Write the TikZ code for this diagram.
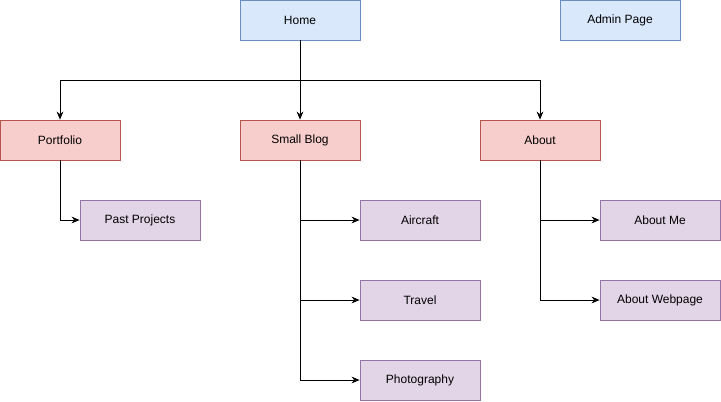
\documentclass[tikz,border=0pt]{standalone}
\usepackage{fontspec}
\setmainfont{Liberation Sans}
\usetikzlibrary{arrows.meta}
\definecolor{bfill}{HTML}{DAE8FC}
\definecolor{bline}{HTML}{6C8EBF}
\definecolor{rfill}{HTML}{F8CECC}
\definecolor{rline}{HTML}{B85450}
\definecolor{pfill}{HTML}{E1D5E7}
\definecolor{pline}{HTML}{9673A6}
\tikzset{
  box/.style={draw, minimum width=90pt, minimum height=30pt, inner sep=0pt, line width=0.6pt, font=\fontsize{9pt}{11pt}\selectfont, text=black},
  bluebox/.style={box, fill=bfill, draw=bline},
  redbox/.style={box, fill=rfill, draw=rline},
  purplebox/.style={box, fill=pfill, draw=pline},
  conn/.style={draw=black, line width=0.6pt, -{Stealth[length=6pt,width=5pt]}}
}
\begin{document}
\begin{tikzpicture}[x=0.75pt,y=-0.75pt]
\useasboundingbox (0,0) rectangle (721,401);
\node[bluebox] (home) at (300,20) {Home};
\node[bluebox] (admin) at (620,20) {Admin Page};
\node[redbox] (portfolio) at (60,140) {Portfolio};
\node[redbox] (blog) at (300,140) {Small Blog};
\node[redbox] (about) at (540,140) {About};
\node[purplebox] (past) at (140,220) {Past Projects};
\node[purplebox] (aircraft) at (420,220) {Aircraft};
\node[purplebox] (travel) at (420,300) {Travel};
\node[purplebox] (photo) at (420,380) {Photography};
\node[purplebox] (aboutme) at (660,220) {About Me};
\node[purplebox] (aboutweb) at (660,300) {About Webpage};
\coordinate (split) at (300,80);
\draw[conn] (home.south) -- (split) -| (portfolio.north);
\draw[conn] (home.south) -- (blog.north);
\draw[conn] (home.south) -- (split) -| (about.north);
\draw[conn] (portfolio.south) |- (past.west);
\draw[conn] (blog.south) |- (aircraft.west);
\draw[conn] (blog.south) |- (travel.west);
\draw[conn] (blog.south) |- (photo.west);
\draw[conn] (about.south) |- (aboutme.west);
\draw[conn] (about.south) |- (aboutweb.west);
\end{tikzpicture}
\end{document}
